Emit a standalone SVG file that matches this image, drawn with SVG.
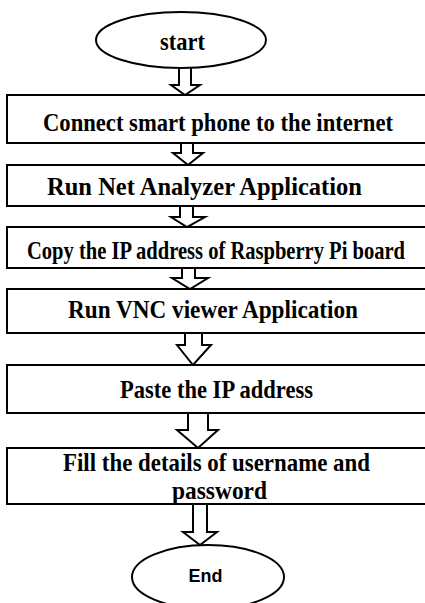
<svg xmlns="http://www.w3.org/2000/svg" width="425" height="603" viewBox="0 0 425 603">
<style>
.box{fill:#fff;stroke:#000;stroke-width:2}
.term{fill:#fff;stroke:#000;stroke-width:2}
.arr{fill:#fff;stroke:#000;stroke-width:2;stroke-linejoin:miter}
.t{font-family:"Liberation Serif","Times New Roman",serif;font-weight:bold;font-size:21px;fill:#000;text-anchor:middle}
.s{font-family:"Liberation Sans",Arial,sans-serif;font-weight:bold;font-size:18px;fill:#000;text-anchor:middle}
</style>
<rect width="425" height="603" fill="#fff"/>
<g id="connectors">
<path class="arr" d="M179 66 V85 H171 L185 95 L200 85 H191 V66"/>
<path class="arr" d="M181 143 V153 H173 L188 165 L203 153 H193 V143"/>
<path class="arr" d="M180 206 V217 H171 L187 227 L205 217 H193 V206"/>
<path class="arr" d="M182 268 V278 H172 L190 289 L208 278 H195 V268"/>
<path class="arr" d="M185 333 V345 H177 L193 365 L211 345 H202 V333"/>
<path class="arr" d="M188 413 V430 H177 L198 448 L218 430 H208 V413"/>
<path class="arr" d="M193 504 V532 H183 L200 545 L217 532 H207 V504"/>
</g>
<g id="start">
<ellipse class="term" cx="181" cy="40" rx="85" ry="28"/>
<text class="t" transform="translate(182.5 50) scale(1 1.15)" textLength="45" lengthAdjust="spacingAndGlyphs">start</text>
</g>
<g id="step1">
<rect class="box" x="7" y="95" width="425" height="48"/>
<text class="t" transform="translate(218 131) scale(1 1.22)" font-size="21.5" textLength="350" lengthAdjust="spacingAndGlyphs">Connect smart phone to the internet</text>
</g>
<g id="step2">
<rect class="box" x="7" y="165" width="425" height="41"/>
<text class="t" transform="translate(204.5 195) scale(1 1.2)" textLength="315" lengthAdjust="spacingAndGlyphs">Run Net Analyzer Application</text>
</g>
<g id="step3">
<rect class="box" x="7" y="227" width="425" height="41"/>
<text class="t" transform="translate(216 259) scale(1 1.18)" font-size="20.5" textLength="378" lengthAdjust="spacingAndGlyphs">Copy the IP address of Raspberry Pi board</text>
</g>
<g id="step4">
<rect class="box" x="7" y="289" width="425" height="44"/>
<text class="t" transform="translate(213 318) scale(1 1.2)" textLength="290" lengthAdjust="spacingAndGlyphs">Run VNC viewer Application</text>
</g>
<g id="step5">
<rect class="box" x="7" y="365" width="425" height="48"/>
<text class="t" transform="translate(216.5 398) scale(1 1.2)" textLength="193" lengthAdjust="spacingAndGlyphs">Paste the IP address</text>
</g>
<g id="step6">
<rect class="box" x="7" y="448" width="425" height="56"/>
<text class="t" transform="translate(216.5 471) scale(1 1.2)" textLength="307" lengthAdjust="spacingAndGlyphs">Fill the details of username and</text>
<text class="t" transform="translate(219.5 499) scale(1 1.2)" textLength="95" lengthAdjust="spacingAndGlyphs">password</text>
</g>
<g id="end">
<ellipse class="term" cx="208" cy="577" rx="76" ry="32"/>
<text class="s" x="205.5" y="582" textLength="34" lengthAdjust="spacingAndGlyphs">End</text>
</g>
</svg>
